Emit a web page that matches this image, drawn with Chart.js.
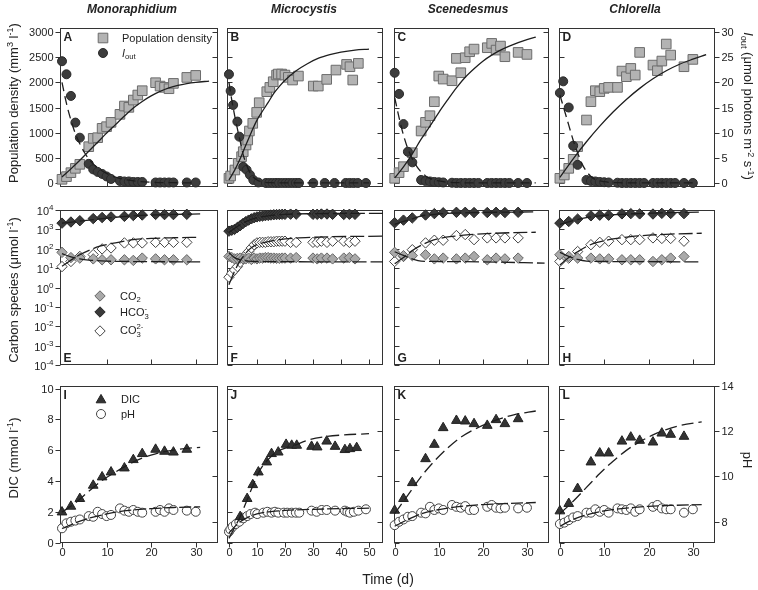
<!DOCTYPE html>
<html><head><meta charset="utf-8">
<script src="https://cdn.jsdelivr.net/npm/chart.js@4.4.1/dist/chart.umd.min.js"></script>
<style>
html,body{margin:0;padding:0;background:#fff;}
#wrap{position:relative;width:758px;height:590px;overflow:hidden;font-family:"Liberation Sans",Arial,sans-serif;color:#222;background:#fff;}
#wrap canvas{position:absolute;left:0;top:0;}
.t{position:absolute;white-space:nowrap;line-height:1;}
.col{font-weight:bold;font-style:italic;font-size:12px;transform:translateX(-50%);}
.rl{font-size:13px;transform:translate(-50%,-50%) rotate(-90deg);}
.rr{font-size:13px;transform:translate(-50%,-50%) rotate(90deg);}
.leg{font-size:11px;transform:translateY(-50%);}
sup,sub{font-size:70%;line-height:0;}
sup{vertical-align:0.5em;}
sub{vertical-align:-0.3em;}
.ss{display:inline-block;font-size:70%;line-height:1.0;vertical-align:-0.45em;}
.ss span{display:block;}
</style></head>
<body><div id="wrap">
<div class="t col" style="left:132px;top:3px">Monoraphidium</div>
<div class="t col" style="left:304px;top:3px">Microcystis</div>
<div class="t col" style="left:468px;top:3px">Scenedesmus</div>
<div class="t col" style="left:635px;top:3px">Chlorella</div>
<div class="t rl" style="left:13px;top:103px">Population density (mm<sup>3</sup> l<sup>-1</sup>)</div>
<div class="t rl" style="left:13px;top:290px">Carbon species (μmol l<sup>-1</sup>)</div>
<div class="t rl" style="left:13px;top:458px">DIC (mmol l<sup>-1</sup>)</div>
<div class="t rr" style="left:748px;top:106px"><i>I</i><sub>out</sub> (μmol photons m<sup>-2</sup> s<sup>-1</sup>)</div>
<div class="t rr" style="left:747px;top:460px">pH</div>
<div class="t" style="left:388px;top:579px;font-size:14px;transform:translate(-50%,-50%)">Time (d)</div>
<div class="t leg" style="left:122px;top:38px">Population density</div>
<div class="t leg" style="left:122px;top:53px"><i>I</i><sub>out</sub></div>
<div class="t leg" style="left:120px;top:296px">CO<sub>2</sub></div>
<div class="t leg" style="left:120px;top:313px">HCO<span class="ss"><span>-</span><span>3</span></span></div>
<div class="t leg" style="left:120px;top:331px">CO<span class="ss"><span>2-</span><span>3</span></span></div>
<div class="t leg" style="left:121px;top:399px">DIC</div>
<div class="t leg" style="left:121px;top:414px">pH</div>
</div>
<script>
// ---------------- tick labels ----------------
const densTicks = [0,500,1000,1500,2000,2500,3000];
const ioutTicks = [0,5,10,15,20,25,30];
const carbonTicks = [1e-4,1e-3,1e-2,1e-1,1,10,100,1000,10000];
const dicTicks = [0,2,4,6,8,10];
const phTicks = [8,10,12,14];
const dayTicks35 = [0,10,20,30];
const dayTicks55 = [0,10,20,30,40,50];

// ---------------- Row 1: population density (mm3 l-1) & Iout ----------------
const monoDay = [0,1,2,3,4,6,7,8,9,10,11,13,14,15,16,17,18,21,22,23,24,25,28,30];
const monoDensity = [73,126,205,291,371,721,887,900,1086,1119,1205,1364,1529,1503,1648,1748,1834,1993,1926,1900,1873,1979,2098,2138];
const monoIout = [24.2,21.6,17.3,12.0,9.0,3.8,2.7,2.2,1.8,1.3,0.8,0.4,0.3,0.3,0.2,0.2,0.2,0.1,0.1,0.1,0.1,0.1,0.1,0.1];
const monoDensFitDay = [0,2,4,6,8,10,12,14,16,18,20,22,24,26,28,30,33];
const monoDensFit = [120,280,450,630,810,990,1160,1330,1490,1620,1730,1820,1890,1940,1975,2000,2025];
const monoIoutFitDay = [0,1,2,3,4,5,6,7,8,10,12,15,20,25,30];
const monoIoutFit = [20,15.8,12.5,9.8,7.8,6.1,4.8,3.8,3.0,1.9,1.15,0.55,0.15,0.05,0.02];

const micDensDay = [0,0.6,2.1,3.3,4.5,5.1,6.1,6.7,7.3,8.5,9.9,10.8,13.5,14.6,15.8,17,17.6,18.8,20,21.2,22.7,24.8,30.1,31.9,34.9,38.2,42,43.2,44.2,46.2];
const micDensity = [93,139,258,390,523,622,755,854,1033,1185,1403,1595,1814,1900,2012,2145,2165,2165,2145,2099,2046,2125,1926,1926,2059,2244,2357,2310,2046,2377];
const micIoutDay = [0,0.6,1.5,3,3.7,5.1,6.3,7.5,8.7,10.5,13.2,14.4,15.6,16.8,17.9,19.1,20.3,21.5,22.7,23.9,25,30.1,34.2,37.7,41.7,43.1,44.5,46,48.9];
const micIout = [21.6,18.3,15.5,12.2,9.2,3.2,2.6,1.6,0.6,0.1,0,0,0,0,0,0,0,0,0,0,0,0,0,0,0,0,0,0,0];
const micDensFitDay = [0,2,4,6,8,10,12,14,16,18,20,24,28,32,36,40,45,50];
const micDensFit = [60,250,480,750,1010,1250,1430,1600,1780,1920,2040,2230,2370,2480,2550,2600,2640,2660];
const micIoutFitDay = [0,1,2,3,4,5,6,7,8,10,12,15,20,30,50];
const micIoutFit = [20,16.5,13.5,10.8,8.3,5.8,4.0,2.6,1.6,0.6,0.2,0.05,0.01,0,0];

const sceDensDay = [0,1,2,4,6,7,8,9,10,11,13,14,15,16,17,18,21,22,23,24,25,28,30];
const sceDensity = [93,205,324,602,1033,1205,1337,1615,2125,2065,2032,2476,2191,2489,2608,2661,2688,2774,2641,2721,2509,2595,2555];
const sceIoutDay = [0,1,2,3,4,6,7,8,9,10,11,13,14,15,16,17,18,19,21,22,23,24,25,26,28,30];
const sceIout = [21.9,17.7,11.7,6.2,4.1,0.6,0.4,0.3,0.2,0.15,0.1,0.05,0,0,0,0,0,0,0,0,0,0,0,0,0,0];
const sceDensFitDay = [0,2,4,6,8,10,12,14,16,18,20,22,24,26,28,30,32];
const sceDensFit = [100,320,580,870,1130,1400,1650,1890,2100,2270,2420,2540,2640,2720,2790,2850,2900];
const sceIoutFitDay = [0,1,2,3,4,5,6,7,8,10,12,15,20,32];
const sceIoutFit = [17,13,9.5,6.8,4.8,3.3,2.2,1.4,0.9,0.4,0.15,0.05,0.01,0];

const chlDensDay = [0,1,2,3,4,6,7,8,9,10,11,13,14,15,16,17,18,21,22,23,24,25,28,30];
const chlDensity = [93,159,291,470,722,1251,1615,1834,1814,1880,1900,1900,2224,2112,2277,2145,2595,2343,2231,2423,2761,2542,2310,2456];
const chlIoutDay = [0,0.75,2,3,4,6,7,8,9,10,11,13,14,15,16,17,18,19,21,22,23,24,25,26,28,30];
const chlIout = [17.9,20.2,15.0,7.4,3.6,0.6,0.4,0.3,0.2,0.15,0.1,0.05,0,0,0,0,0,0,0,0,0,0,0,0,0,0];
const chlDensFitDay = [0,3,6,9,12,15,18,21,24,27,30,33];
const chlDensFit = [110,480,820,1130,1410,1660,1880,2070,2230,2360,2460,2550];
const chlIoutFitDay = [0,1,2,3,4,5,6,7,8,10,13,20,30];
const chlIoutFit = [17.5,14.5,11.5,8.5,6,3.8,2.3,1.3,0.7,0.25,0.05,0.01,0];

// ---------------- Row 2: carbon species (umol l-1) ----------------
const dicDays = [0,2,4,7,9,11,14,16,18,21,23,25,28];
const monoHCO3 = [2100,2400,2800,3600,4100,4400,4700,5200,5500,5900,5800,5800,6000];
const monoCO2 = [65,35,33,30,27,27,27,25,33,30,27,27,27];
const monoCO3 = [12,22,40,50,98,110,200,200,200,214,214,214,214];
const monoHCO3FitDay = [0,5,10,15,20,25,31];
const monoHCO3Fit = [2090,2820,3800,4790,5500,5890,6310];
const monoCO2FitDay = [0,2,4,6,10,15,31];
const monoCO2Fit = [56,38,30,26,23,22,21];
const monoCO3FitDay = [0,4,8.5,12,16,20,25,31];
const monoCO3Fit = [12.6,49,135,200,295,340,370,390];

const micCarbDay = [0,1,2,3,4,5,6,7,8,9,10,11,12,13,14,15,16,17,18,19,20,22,24,30,31.5,33,35,37,41,43,45];
const micHCO3 = [810,900,1000,1250,1550,2000,2500,3000,3500,4000,4400,4700,4900,5100,5250,5500,5700,5800,5900,6000,6000,6100,6100,6000,6000,6200,6200,6000,5900,6000,6000];
const micCO2 = [40,35,30,32,33,30,30,33,28,33,30,33,33,35,35,33,33,32,32,33,33,33,35,33,30,33,33,30,33,35,30];
const micCO3 = [3.4,5.5,8,12,20,33,49,72,110,160,200,214,214,214,230,230,230,245,245,245,245,214,214,214,214,245,214,245,245,214,245];
const micHCO3FitDay = [0,3,6,10,15,20,30,55];
const micHCO3Fit = [700,1400,2500,4000,5250,6000,6450,6760];
const micCO2FitDay = [0,2,4,7,10,55];
const micCO2Fit = [63,35,27,23,22,21];
const micCO3FitDay = [0,1,2,3.5,5,7,9,12,18,30,55];
const micCO3Fit = [1.4,3.2,7,18,38,85,140,200,295,390,450];

const sceHCO3 = [2200,3000,3900,5500,6500,7200,7600,7600,7400,7400,7600,7400,7600];
const sceCO2 = [65,44,44,49,30,33,30,33,40,27,33,30,33];
const sceCO3 = [22,40,89,200,275,275,480,540,295,363,363,363,363];
const sceHCO3FitDay = [0,2,4,6,9,12,17,24,32];
const sceHCO3Fit = [1820,2600,3500,4900,6000,6700,7250,7700,7950];
const sceCO2FitDay = [0,2,4,6,10,20,34];
const sceCO2Fit = [70,45,30,23,22,21,18];
const sceCO3FitDay = [0,2,4,6,8,10,13,17,22,27,32];
const sceCO3Fit = [17,35,80,150,240,330,430,530,620,680,710];

const chlHCO3 = [2100,2550,3400,5000,5400,5400,6300,6500,6300,6200,6700,6600,6500];
const chlCO2 = [49,40,33,33,30,30,27,27,27,22,27,33,40];
const chlCO3 = [22,33,72,162,214,245,295,295,295,363,340,340,245];
const chlHCO3FitDay = [0,3,6,9,12,16,20,25,32];
const chlHCO3Fit = [1820,2800,4000,5000,5700,6300,6800,7300,7900];
const chlCO2FitDay = [0,2,4,6,10,32];
const chlCO2Fit = [65,40,28,23,22,21];
const chlCO3FitDay = [0,2,4,6,8,10,12,16,20,25,32];
const chlCO3Fit = [14.5,35,70,130,200,260,320,420,500,570,630];

// ---------------- Row 3: DIC (mmol l-1) & pH ----------------
const monoDIC = [2.0,2.37,2.87,3.73,4.27,4.59,4.85,5.39,5.78,6.06,5.93,5.88,6.06];
const monoPH = [7.71,7.93,8.0,8.05,8.1,8.25,8.22,8.44,8.34,8.25,8.3,8.59,8.49,8.44,8.52,8.44,8.4,8.44,8.52,8.44,8.59,8.52,8.49,8.44];
const monoDICFitDay = [0,3,6,9,12,15,18,21,24,27,31];
const monoDICFit = [2.0,2.6,3.35,4.05,4.6,5.1,5.5,5.78,5.97,6.1,6.2];
const monoPHFitDay = [0,3,6,9,12,15,20,25,31];
const monoPHFit = [7.7,7.95,8.15,8.3,8.42,8.5,8.58,8.63,8.66];

const micDICDay = [4,6.5,8.5,10.5,13.5,15.2,17.6,20.4,22.4,24.2,29.5,31.5,34.9,37.9,41.4,43.2,45.6];
const micDIC = [1.7,2.87,3.77,4.59,5.24,5.78,5.88,6.38,6.32,6.32,6.25,6.21,6.59,6.25,6.04,6.1,6.17];
const micPHDay = [0,0.5,1.3,2.5,3.7,5.1,6.5,7.7,9.3,10.1,12.3,13.7,15.2,16.4,17.6,19.6,20.8,22.4,23.9,25.1,29.5,31.3,33.1,34.9,37.9,41.4,42.3,43.2,44.6,46.2,48.9];
const micPH = [7.56,7.66,7.78,7.9,8.0,8.15,8.25,8.34,8.4,8.34,8.4,8.44,8.4,8.44,8.4,8.4,8.4,8.4,8.4,8.4,8.49,8.44,8.52,8.52,8.49,8.49,8.44,8.4,8.44,8.49,8.55];
const micDICFitDay = [0,2,4,6.5,8.5,11,14.5,17,23,29,35,41,50];
const micDICFit = [0.3,1.0,1.7,2.8,3.7,4.7,5.5,5.9,6.3,6.7,6.9,7.0,7.08];
const micPHFitDay = [0,3,6,10,15,20,30,40,50];
const micPHFit = [7.5,7.9,8.15,8.35,8.45,8.5,8.55,8.58,8.6];

const sceDIC = [2.11,2.87,3.9,5.45,6.38,7.46,7.93,7.89,7.72,7.61,7.98,7.72,8.04];
const phDays = [0,1,2,3,4,6,7,8,9,10,11,13,14,15,16,17,18,21,22,23,24,25,28,30];
const scePH = [7.85,8.0,8.1,8.22,8.25,8.4,8.37,8.66,8.52,8.59,8.52,8.74,8.66,8.62,8.69,8.52,8.52,8.66,8.74,8.62,8.59,8.62,8.59,8.62];
const sceDICFitDay = [0,3,6,9,12,15,18,21,24,27,32];
const sceDICFit = [1.9,3.1,4.3,5.3,6.15,6.85,7.35,7.75,8.05,8.3,8.55];
const scePHFitDay = [0,3,6,9,12,15,20,25,32];
const scePHFit = [7.8,8.1,8.35,8.5,8.6,8.68,8.76,8.8,8.85];

const chlDIC = [2.07,2.55,3.52,5.24,5.82,5.82,6.59,6.85,6.64,6.53,7.11,7.03,6.9];
const chlPH = [7.9,7.96,8.07,8.19,8.25,8.4,8.4,8.55,8.44,8.52,8.4,8.59,8.55,8.52,8.59,8.44,8.55,8.66,8.74,8.59,8.55,8.55,8.4,8.55];
const chlDICFitDay = [0,3,6,9,12,15,18,21,24,27,32];
const chlDICFit = [1.9,2.7,3.6,4.5,5.3,6.0,6.55,7.0,7.35,7.6,7.85];
const chlPHFitDay = [0,3,6,10,15,20,25,32];
const chlPHFit = [7.8,8.1,8.3,8.48,8.6,8.68,8.72,8.76];

// ---------------- layout & styles ----------------
const W = 758, H = 590, TL = 5;
const COLX = [[60,218],[227,383],[394,549],[559,715]];
const ROWY = [[28,187],[210,365],[386,543]];
const XR = [[-0.45,35],[-0.7,55],[-0.15,35],[-0.2,35]];
const FONT = '"Liberation Sans", Arial, sans-serif';

const ST = {
  square: {shape:'rect', r:6.8, fill:'#b3b3b3', stroke:'#6c6c6c', bw:1},
  dot:    {shape:'circle', r:4.5, fill:'#3c3c3c', stroke:'#2a2a2a', bw:1},
  dBlack: {shape:'rectRot', r:5.2, fill:'#3a3a3a', stroke:'#262626', bw:1},
  dGray:  {shape:'rectRot', r:5.2, fill:'#a9a9a9', stroke:'#666', bw:1},
  dWhite: {shape:'rectRot', r:5.2, fill:'#ffffff', stroke:'#444', bw:1},
  tri:    {shape:'triangle', r:5.6, fill:'#333', stroke:'#222', bw:1},
  ring:   {shape:'circle', r:4.5, fill:'#ffffff', stroke:'#444', bw:1}
};

function pts(xs, ys){ return xs.map((x,i)=>({x:x, y:ys[i]})); }
function marks(xs, ys, s, yAxisID, order){
  return {data:pts(xs,ys), yAxisID:yAxisID, order:order, showLine:false, clip:false,
    pointStyle:s.shape, pointRadius:s.r, pointHoverRadius:s.r,
    pointBackgroundColor:s.fill, pointBorderColor:s.stroke, pointBorderWidth:s.bw};
}
function curve(xs, ys, dash, yAxisID){
  return {data:pts(xs,ys), yAxisID:yAxisID, order:0, showLine:true, pointRadius:0, pointHoverRadius:0,
    borderColor:'#1e1e1e', borderWidth:1.3, borderDash:dash, cubicInterpolationMode:'monotone', fill:false};
}

function drawShape(ctx, s, x, y){
  const r = s.r;
  ctx.beginPath();
  if (s.shape === 'circle') ctx.arc(x, y, r, 0, Math.PI*2);
  else if (s.shape === 'rect') { const h = Math.SQRT1_2*r; ctx.rect(x-h, y-h, 2*h, 2*h); }
  else if (s.shape === 'rectRot') { ctx.moveTo(x-r,y); ctx.lineTo(x,y-r); ctx.lineTo(x+r,y); ctx.lineTo(x,y+r); ctx.closePath(); }
  else if (s.shape === 'triangle') { const a = 2*Math.PI/3; ctx.moveTo(x, y-r); ctx.lineTo(x+Math.sin(a)*r, y-Math.cos(a)*r); ctx.lineTo(x+Math.sin(2*a)*r, y-Math.cos(2*a)*r); ctx.closePath(); }
  ctx.fillStyle = s.fill; ctx.fill();
  ctx.lineWidth = s.bw; ctx.strokeStyle = s.stroke; ctx.stroke();
}

const decor = {
  id:'decor',
  beforeDatasetsDraw(chart, args, o){
    const ctx = chart.ctx, a = chart.chartArea;
    const L = Math.round(a.left)+0.5, R = Math.round(a.right)-0.5, T = Math.round(a.top)+0.5, B = Math.round(a.bottom)-0.5;
    ctx.save();
    ctx.lineWidth = 1; ctx.strokeStyle = '#333';
    ctx.strokeRect(L, T, R-L, B-T);
    ctx.fillStyle = '#222';
    (o.ticks||[]).forEach(t => {
      const sc = chart.scales[t.scale];
      t.values.forEach(v => {
        const p = Math.round(sc.getPixelForValue(v)) + 0.5;
        ctx.beginPath();
        if (t.side === 'left') { ctx.moveTo(L,p); ctx.lineTo(t.out ? L-TL : L+TL, p); }
        else if (t.side === 'right') { ctx.moveTo(R,p); ctx.lineTo(t.out ? R+TL : R-TL, p); }
        else { ctx.moveTo(p,B); ctx.lineTo(p, t.out ? B+TL : B-TL); }
        ctx.stroke();
        if (!t.labels) return;
        if (t.labels === 'pow10') {
          const ex = String(Math.round(Math.log10(v)));
          ctx.font = '11px ' + FONT; const wb = ctx.measureText('10').width;
          ctx.font = '8px ' + FONT; const we = ctx.measureText(ex).width;
          const xr = L - TL - 2;
          ctx.textBaseline = 'middle'; ctx.textAlign = 'left';
          ctx.font = '11px ' + FONT; ctx.fillText('10', xr - we - wb, p + 1);
          ctx.font = '8px ' + FONT; ctx.fillText(ex, xr - we, p - 3);
        } else {
          ctx.font = '11px ' + FONT;
          if (t.side === 'left') { ctx.textAlign='right'; ctx.textBaseline='middle'; ctx.fillText(String(v), L-TL-2, p); }
          else if (t.side === 'right') { ctx.textAlign='left'; ctx.textBaseline='middle'; ctx.fillText(String(v), R+TL+2, p); }
          else { ctx.textAlign='center'; ctx.textBaseline='middle'; ctx.fillText(String(v), p, B+TL+5); }
        }
      });
    });
    ctx.font = 'bold 12px ' + FONT; ctx.fillStyle = '#222'; ctx.textAlign = 'left';
    if (o.letterPos === 'bl') { ctx.textBaseline='alphabetic'; ctx.fillText(o.letter, L+3, B-3); }
    else { ctx.textBaseline='top'; ctx.fillText(o.letter, L+3, T+3); }
    ctx.restore();
  },
  afterDatasetsDraw(chart, args, o){
    const ctx = chart.ctx;
    ctx.save();
    (o.legend||[]).forEach(it => drawShape(ctx, it.s, it.x, it.y));
    ctx.restore();
  }
};
Chart.register(decor);

const wrap = document.getElementById('wrap');
function makePanel(row, col, datasets, yScales, ticks, letter, letterPos, legend){
  const cv = document.createElement('canvas');
  cv.width = W; cv.height = H; cv.style.width = W+'px'; cv.style.height = H+'px';
  wrap.insertBefore(cv, wrap.firstChild);
  const [l, r] = COLX[col], [t, b] = ROWY[row];
  const scales = Object.assign({x:{type:'linear', min:XR[col][0], max:XR[col][1], display:false}}, yScales);
  new Chart(cv.getContext('2d'), {
    type:'scatter',
    data:{datasets:datasets},
    options:{
      responsive:false, animation:false, devicePixelRatio:1, events:[],
      layout:{padding:{left:l, right:W-r, top:t, bottom:H-b}},
      scales:scales,
      plugins:{legend:{display:false}, tooltip:{enabled:false},
        decor:{ticks:ticks, letter:letter, letterPos:letterPos, legend:legend}}
    }
  });
}

const letters = ['A','B','C','D','E','F','G','H','I','J','K','L'];
const innerDays = [[10,20,30],[10,20,30,40,50],[10,20,30],[10,20,30]];

// Row 1
const row1 = [
  [monoDay, monoDensity, monoDay, monoIout, monoDensFitDay, monoDensFit, monoIoutFitDay, monoIoutFit],
  [micDensDay, micDensity, micIoutDay, micIout, micDensFitDay, micDensFit, micIoutFitDay, micIoutFit],
  [sceDensDay, sceDensity, sceIoutDay, sceIout, sceDensFitDay, sceDensFit, sceIoutFitDay, sceIoutFit],
  [chlDensDay, chlDensity, chlIoutDay, chlIout, chlDensFitDay, chlDensFit, chlIoutFitDay, chlIoutFit]
];
row1.forEach((d, c) => {
  makePanel(0, c, [
    curve(d[4], d[5], [], 'y'),
    curve(d[6], d[7], [9,5], 'y2'),
    marks(d[2], d[3], ST.dot, 'y2', 1),
    marks(d[0], d[1], ST.square, 'y', 2)
  ], {
    y:{type:'linear', min:-80, max:3080, display:false},
    y2:{type:'linear', min:-0.8, max:30.8, display:false, position:'right'}
  }, [
    {side:'left', scale:'y', values:densTicks, out:c===0, labels:c===0},
    {side:'right', scale:'y2', values:ioutTicks, out:c===3, labels:c===3},
    {side:'bottom', scale:'x', values:innerDays[c], out:false, labels:false}
  ], letters[c], 'tl', c===0 ? [{s:ST.square, x:103, y:38}, {s:ST.dot, x:103, y:53}] : []);
});

// Row 2
const row2 = [
  [dicDays, monoHCO3, monoCO2, monoCO3, monoHCO3FitDay, monoHCO3Fit, monoCO2FitDay, monoCO2Fit, monoCO3FitDay, monoCO3Fit],
  [micCarbDay, micHCO3, micCO2, micCO3, micHCO3FitDay, micHCO3Fit, micCO2FitDay, micCO2Fit, micCO3FitDay, micCO3Fit],
  [dicDays, sceHCO3, sceCO2, sceCO3, sceHCO3FitDay, sceHCO3Fit, sceCO2FitDay, sceCO2Fit, sceCO3FitDay, sceCO3Fit],
  [dicDays, chlHCO3, chlCO2, chlCO3, chlHCO3FitDay, chlHCO3Fit, chlCO2FitDay, chlCO2Fit, chlCO3FitDay, chlCO3Fit]
];
row2.forEach((d, c) => {
  makePanel(1, c, [
    curve(d[4], d[5], [14,4], 'y'),
    curve(d[6], d[7], [14,4], 'y'),
    curve(d[8], d[9], [14,4], 'y'),
    marks(d[0], d[2], ST.dGray, 'y', 1),
    marks(d[0], d[3], ST.dWhite, 'y', 2),
    marks(d[0], d[1], ST.dBlack, 'y', 3)
  ], {
    y:{type:'logarithmic', min:1e-4, max:1e4, display:false}
  }, [
    {side:'left', scale:'y', values:carbonTicks, out:c===0, labels:c===0 ? 'pow10' : false},
    {side:'bottom', scale:'x', values:innerDays[c], out:false, labels:false}
  ], letters[4+c], 'bl', c===0 ? [{s:ST.dGray, x:100, y:296}, {s:ST.dBlack, x:100, y:312}, {s:ST.dWhite, x:100, y:331}] : []);
});

// Row 3
const row3 = [
  [dicDays, monoDIC, monoDay, monoPH, monoDICFitDay, monoDICFit, monoPHFitDay, monoPHFit],
  [micDICDay, micDIC, micPHDay, micPH, micDICFitDay, micDICFit, micPHFitDay, micPHFit],
  [dicDays, sceDIC, phDays, scePH, sceDICFitDay, sceDICFit, scePHFitDay, scePHFit],
  [dicDays, chlDIC, phDays, chlPH, chlDICFitDay, chlDICFit, chlPHFitDay, chlPHFit]
];
row3.forEach((d, c) => {
  makePanel(2, c, [
    curve(d[4], d[5], [12,5], 'y'),
    curve(d[6], d[7], [12,3], 'y2'),
    marks(d[0], d[1], ST.tri, 'y', 1),
    marks(d[2], d[3], ST.ring, 'y2', 2)
  ], {
    y:{type:'linear', min:0, max:10.17, display:false},
    y2:{type:'linear', min:7.06, max:14, display:false, position:'right'}
  }, [
    {side:'left', scale:'y', values:dicTicks, out:c===0, labels:c===0},
    {side:'right', scale:'y2', values:phTicks, out:c===3, labels:c===3},
    {side:'bottom', scale:'x', values:c===1 ? dayTicks55 : dayTicks35, out:true, labels:true}
  ], letters[8+c], 'tl', c===0 ? [{s:ST.tri, x:101, y:400}, {s:ST.ring, x:101, y:414}] : []);
});
</script>
</body></html>
